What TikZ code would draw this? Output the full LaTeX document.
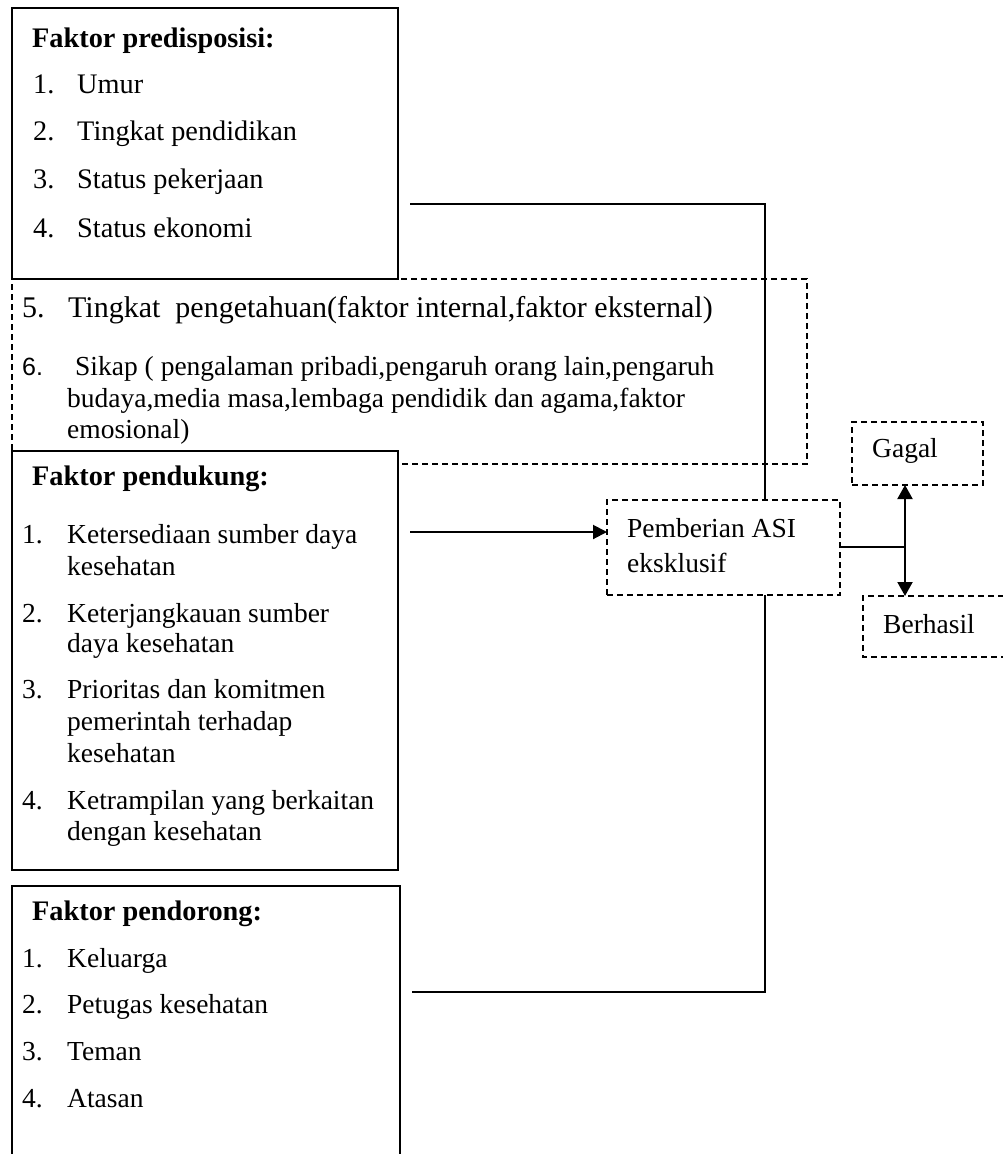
\documentclass[tikz,border=0pt]{standalone}
\usepackage{fontspec}
\setmainfont{Liberation Serif}
\newfontfamily\sansf{Liberation Sans}
\usetikzlibrary{arrows.meta}
\tikzset{
  solidbox/.style={draw=black, line width=2pt, fill=white, rectangle, inner sep=0pt, outer sep=0pt},
  dashbox/.style={draw=black, line width=2pt, dash pattern=on 6pt off 4pt, rectangle, inner sep=0pt, outer sep=0pt},
  dashline/.style={draw=black, line width=2pt, dash pattern=on 6pt off 4pt},
  conn/.style={draw=black, line width=2pt},
  tip/.style={-{Triangle[length=14pt,width=14pt]}},
  tips/.style={{Triangle[length=14pt,width=15pt]}-{Triangle[length=14pt,width=15pt]}},
  txt/.style={anchor=base west, inner sep=0pt, font=\fontsize{27.5}{33}\selectfont},
  txta/.style={anchor=base west, inner sep=0pt, font=\fontsize{28.3}{34}\selectfont},
  bigtxt/.style={anchor=base west, inner sep=0pt, font=\fontsize{30}{36}\selectfont},
  hd/.style={anchor=base west, inner sep=0pt, font=\fontsize{28.3}{34}\selectfont\bfseries},
}
\begin{document}
\begin{tikzpicture}[x=1pt,y=-1pt]
\useasboundingbox (0,0) rectangle (1003,1154);
\fill[white] (0,0) rectangle (1003,1154);

% dashed box 2 (drawn first, partly hidden by boxes 1 and 3)
\node[dashbox, minimum width=795pt, minimum height=185pt] (b2) at (409.5,371.5) {};

% solid boxes
\node[solidbox, minimum width=386pt, minimum height=271pt] (b1) at (205,143.5) {};
\node[solidbox, minimum width=386pt, minimum height=419pt] (b3) at (205,660.5) {};
\draw[conn] (12,1155) -- (12,886) -- (400,886) -- (400,1155);
\coordinate (b4) at (400,992);

% right-hand boxes
\node[dashbox, minimum width=233pt, minimum height=95pt] (asi) at (723.5,547.5) {};
\node[dashbox, minimum width=131pt, minimum height=63pt] (gagal) at (917.5,453.5) {};
\draw[dashline] (1004,596) -- (863,596) -- (863,657) -- (1004,657);
\coordinate (berhasil) at (905,596);

% box 1 text
\node[hd] (t1h) at (32,47) {Faktor predisposisi:};
\node[txta] (t1n1) at (33,93) {1.};
\node[txta] (t1a) at (77,93) {Umur};
\node[txta] (t1n2) at (33,140) {2.};
\node[txta] (t1b) at (77,140) {Tingkat pendidikan};
\node[txta] (t1n3) at (33,188) {3.};
\node[txta] (t1c) at (77,188) {Status pekerjaan};
\node[txta] (t1n4) at (33,237) {4.};
\node[txta] (t1d) at (77,237) {Status ekonomi};

% box 2 text
\node[bigtxt] (t2n5) at (22,317) {5.};
\node[bigtxt] (t2a) at (68,317) {Tingkat\ \ pengetahuan(faktor internal,faktor eksternal)};
\node[txt, font=\fontsize{25}{30}\selectfont\sansf] (t2n6) at (22,375) {6.};
\node[txt] (t2b) at (75,375) {Sikap ( pengalaman pribadi,pengaruh orang lain,pengaruh};
\node[txt] (t2c) at (67,407) {budaya,media masa,lembaga pendidik dan agama,faktor};
\node[txt] (t2d) at (67,438) {emosional)};

% box 3 text
\node[hd] (t3h) at (32,485) {Faktor pendukung:};
\node[txt] (t3n1) at (22,543) {1.};
\node[txt] (t3a1) at (67,543) {Ketersediaan sumber daya};
\node[txt] (t3a2) at (67,575) {kesehatan};
\node[txt] (t3n2) at (22,622) {2.};
\node[txt] (t3b1) at (67,622) {Keterjangkauan sumber};
\node[txt] (t3b2) at (67,652) {daya kesehatan};
\node[txt] (t3n3) at (22,698) {3.};
\node[txt] (t3c1) at (67,698) {Prioritas dan komitmen};
\node[txt] (t3c2) at (67,730) {pemerintah terhadap};
\node[txt] (t3c3) at (67,762) {kesehatan};
\node[txt] (t3n4) at (22,809) {4.};
\node[txt] (t3d1) at (67,809) {Ketrampilan yang berkaitan};
\node[txt] (t3d2) at (67,840) {dengan kesehatan};

% box 4 text
\node[hd] (t4h) at (32,920) {Faktor pendorong:};
\node[txt] (t4n1) at (22,967) {1.};
\node[txt] (t4a) at (67,967) {Keluarga};
\node[txt] (t4n2) at (22,1013) {2.};
\node[txt] (t4b) at (67,1013) {Petugas kesehatan};
\node[txt] (t4n3) at (22,1060) {3.};
\node[txt] (t4c) at (67,1060) {Teman};
\node[txt] (t4n4) at (22,1107) {4.};
\node[txt] (t4d) at (67,1107) {Atasan};

% right texts
\node[txt] (asi1) at (627,537) {Pemberian ASI};
\node[txt] (asi2) at (627,572) {eksklusif};
\node[txt] (gtxt) at (872,457) {Gagal};
\node[txt] (btxt) at (883,633) {Berhasil};

% connectors
\coordinate (s1) at (410,204);
\coordinate (v1) at (765,204);
\draw[conn] (s1) -- (v1) -- (v1 |- asi.north);

\coordinate (s3) at (410,532);
\draw[conn, tip] (s3) -- (s3 -| asi.west);

\coordinate (s4) at (412,992);
\coordinate (v4) at (765,992);
\draw[conn] (s4) -- (v4) -- (v4 |- asi.south);

\coordinate (j) at (905,547);
\draw[conn] (asi.east |- j) -- (j);
\draw[conn, tips] (gagal.south -| j) -- (berhasil);
\end{tikzpicture}
\end{document}
